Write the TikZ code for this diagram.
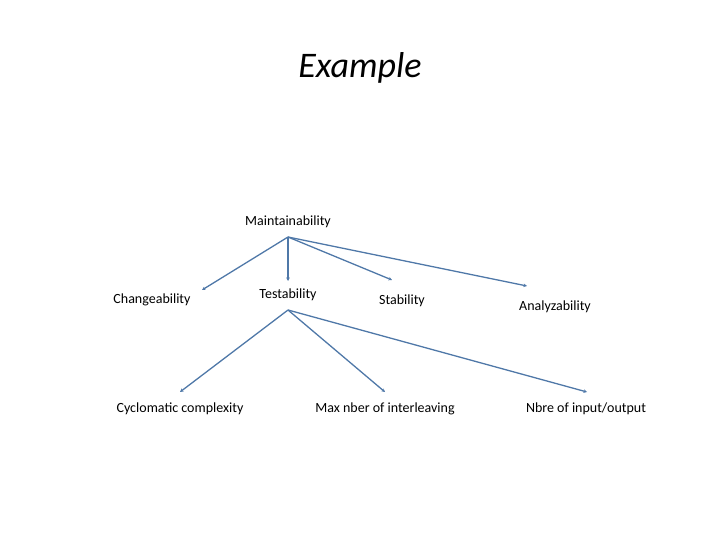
\documentclass[tikz,border=0pt]{standalone}
\usepackage{fontspec}
\setmainfont{Carlito}
\usetikzlibrary{arrows.meta}
\begin{document}
\begin{tikzpicture}[x=1pt,y=-1pt,
  lbl/.style={font=\fontsize{14}{16}\selectfont},
  link/.style={draw=blue!30!gray!90!black, color={rgb,255:red,79;green,120;blue,168}, line width=1.3pt, -{Stealth[length=3.5pt,width=3.5pt]}}]
\useasboundingbox (0,0) rectangle (720,540);
\node (title) at (360,68) {\fontsize{36}{40}\selectfont\itshape Example};
\coordinate (top) at (288,237);
\coordinate (tb) at (288,310);
\node[lbl] (m) at (288,222) {Maintainability};
\node[lbl] (c) at (152,300) {Changeability};
\node[lbl] (t) at (288,295) {Testability};
\node[lbl] (s) at (402,301) {Stability};
\node[lbl] (a) at (555,307) {Analyzability};
\node[lbl] (cc) at (180,409) {Cyclomatic complexity};
\node[lbl] (mx) at (385,409) {Max nber of interleaving};
\node[lbl] (nb) at (586,409) {Nbre of input/output};
\coordinate (ce) at (202,290);
\coordinate (te) at (288,281);
\coordinate (se) at (392,280);
\coordinate (ae) at (527,286);
\coordinate (cce) at (180,392);
\coordinate (mxe) at (385,392);
\coordinate (nbe) at (587,392);
\foreach \e in {ce,te,se,ae} \draw[link] (top) -- (\e);
\foreach \e in {cce,mxe,nbe} \draw[link] (tb) -- (\e);
\end{tikzpicture}
\end{document}
